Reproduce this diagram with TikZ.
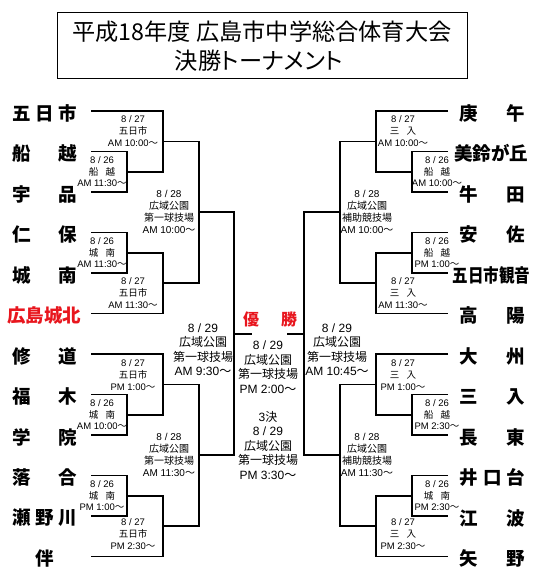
\documentclass[tikz,border=0pt]{standalone}
\usepackage{fontspec}
\setmainfont{Liberation Sans}
\newfontfamily\cjk{Noto Sans CJK JP}
\newfontfamily\cjkp{Noto Sans CJK JP}[RawFeature=+palt]
\newcommand{\J}[1]{{\cjk #1}}
\newcommand{\W}{{\cjk 〜}}
\newcommand{\Sp}{\hspace{0.75em}}
\definecolor{kred}{RGB}{232,22,30}
\tikzset{
  br/.style={line width=1.7pt, line join=miter},
  lbl/.style={align=center, inner sep=0pt, font=\fontsize{9.5}{11.8}\selectfont},
  lblm/.style={align=center, inner sep=0pt, font=\fontsize{10}{12}\selectfont},
  lblb/.style={align=center, inner sep=0pt, font=\fontsize{12}{14.5}\selectfont},
  team/.style={inner sep=0pt, anchor=center, font=\cjk\bfseries\fontsize{18.5}{20}\selectfont},
  ttl/.style={inner sep=0pt, anchor=center},
  win/.style={inner sep=0pt, text=kred, font=\cjk\bfseries\fontsize{16}{18}\selectfont}
}
\begin{document}
\begin{tikzpicture}[x=1pt,y=-1pt]
\useasboundingbox (0,0) rectangle (540,572);
% title
\node[draw, line width=0.8pt, minimum width=410pt, minimum height=66pt, inner sep=0pt] (titlebox) at (262,45) {};
\node[ttl, font=\cjk\fontsize{23.2}{24}\selectfont] (title1) at (262,32) {平成18年度 広島市中学総合体育大会};
\node[ttl, font=\cjkp\fontsize{23.2}{24}\selectfont] (title2) at (259,61) {決勝トーナメント};

% ---------- left coordinates
\coordinate (L1) at (91,111);
\coordinate (L2) at (91,151.5);
\coordinate (L3) at (91,192);
\coordinate (L4) at (91,232.5);
\coordinate (L5) at (91,273);
\coordinate (L6) at (91,313.5);
\coordinate (L7) at (91,354);
\coordinate (L8) at (91,394.5);
\coordinate (L9) at (91,435);
\coordinate (L10) at (91,475.5);
\coordinate (L11) at (91,516);
\coordinate (L12) at (91,556.5);
\coordinate (LA1) at (127,171.75);
\coordinate (LA2) at (127,252.75);
\coordinate (LA3) at (127,414.75);
\coordinate (LA4) at (127,495.75);
\coordinate (LB1) at (163,141.4);
\coordinate (LB2) at (163,283.1);
\coordinate (LB3) at (163,384.4);
\coordinate (LB4) at (163,526.1);
\coordinate (LC1) at (199,212.25);
\coordinate (LC2) at (199,455.25);
\coordinate (LD) at (234,333.75);
\coordinate (LF) at (252,333.75);
% ---------- right coordinates
\coordinate (R1) at (448,111);
\coordinate (R2) at (448,151.5);
\coordinate (R3) at (448,192);
\coordinate (R4) at (448,232.5);
\coordinate (R5) at (448,273);
\coordinate (R6) at (448,313.5);
\coordinate (R7) at (448,354);
\coordinate (R8) at (448,394.5);
\coordinate (R9) at (448,435);
\coordinate (R10) at (448,475.5);
\coordinate (R11) at (448,516);
\coordinate (R12) at (448,556.5);
\coordinate (RA1) at (412,171.75);
\coordinate (RA2) at (412,252.75);
\coordinate (RA3) at (412,414.75);
\coordinate (RA4) at (412,495.75);
\coordinate (RB1) at (376,141.4);
\coordinate (RB2) at (376,283.1);
\coordinate (RB3) at (376,384.4);
\coordinate (RB4) at (376,526.1);
\coordinate (RC1) at (340,212.25);
\coordinate (RC2) at (340,455.25);
\coordinate (RD) at (304,333.75);
\coordinate (RF) at (287,333.75);

% ---------- left brackets
\draw[br] (L2) -| (LA1) |- (L3);
\draw[br] (L4) -| (LA2) |- (L5);
\draw[br] (L8) -| (LA3) |- (L9);
\draw[br] (L10) -| (LA4) |- (L11);
\draw[br] (L1) -| (LB1) |- (LA1);
\draw[br] (LA2) -| (LB2) |- (L6);
\draw[br] (L7) -| (LB3) |- (LA3);
\draw[br] (LA4) -| (LB4) |- (L12);
\draw[br] (LB1) -| (LC1) |- (LB2);
\draw[br] (LB3) -| (LC2) |- (LB4);
\draw[br] (LC1) -| (LD) |- (LC2);
\draw[br] (LD) -- (LF);
% ---------- right brackets
\draw[br] (R2) -| (RA1) |- (R3);
\draw[br] (R4) -| (RA2) |- (R5);
\draw[br] (R8) -| (RA3) |- (R9);
\draw[br] (R10) -| (RA4) |- (R11);
\draw[br] (R1) -| (RB1) |- (RA1);
\draw[br] (RA2) -| (RB2) |- (R6);
\draw[br] (R7) -| (RB3) |- (RA3);
\draw[br] (RA4) -| (RB4) |- (R12);
\draw[br] (RB1) -| (RC1) |- (RB2);
\draw[br] (RB3) -| (RC2) |- (RB4);
\draw[br] (RC1) -| (RD) |- (RC2);
\draw[br] (RD) -- (RF);

% ---------- winner
\node[win] (yu) at (251,319) {優};
\node[win] (sho) at (289,319) {勝};

% ---------- left teams
\node[team] (tL1) at (45,113) {\makebox[64.5pt]{五\hfill 日\hfill 市}};
\node[team] (tL2) at (45,153.5) {\makebox[64.5pt]{船\hfill 越}};
\node[team] (tL3) at (45,194) {\makebox[64.5pt]{宇\hfill 品}};
\node[team] (tL4) at (45,234.5) {\makebox[64.5pt]{仁\hfill 保}};
\node[team] (tL5) at (45,275) {\makebox[64.5pt]{城\hfill 南}};
\node[team, text=kred] (tL6) at (44,315.5) {広島城北};
\node[team] (tL7) at (45,356) {\makebox[64.5pt]{修\hfill 道}};
\node[team] (tL8) at (45,396.5) {\makebox[64.5pt]{福\hfill 木}};
\node[team] (tL9) at (45,437) {\makebox[64.5pt]{学\hfill 院}};
\node[team] (tL10) at (45,477.5) {\makebox[64.5pt]{落\hfill 合}};
\node[team] (tL11) at (45,518) {\makebox[64.5pt]{瀬\hfill 野\hfill 川}};
\node[team] (tL12) at (45,558.5) {伴};
% ---------- right teams
\node[team] (tR1) at (492.5,113) {\makebox[65.5pt]{庚\hfill 午}};
\node[team] (tR2) at (491,153.5) {美鈴が丘};
\node[team] (tR3) at (492.5,194) {\makebox[65.5pt]{牛\hfill 田}};
\node[team] (tR4) at (492.5,234.5) {\makebox[65.5pt]{安\hfill 佐}};
\node[team] (tR5) at (491.5,275) {\scalebox{0.84}[1]{五日市観音}};
\node[team] (tR6) at (492.5,315.5) {\makebox[65.5pt]{高\hfill 陽}};
\node[team] (tR7) at (492.5,356) {\makebox[65.5pt]{大\hfill 州}};
\node[team] (tR8) at (492.5,396.5) {\makebox[65.5pt]{三\hfill 入}};
\node[team] (tR9) at (492.5,437) {\makebox[65.5pt]{長\hfill 東}};
\node[team] (tR10) at (492.5,477.5) {\makebox[65.5pt]{井\hfill 口\hfill 台}};
\node[team] (tR11) at (492.5,518) {\makebox[65.5pt]{江\hfill 波}};
\node[team] (tR12) at (492.5,558.5) {\makebox[65.5pt]{矢\hfill 野}};

% ---------- left labels
\node[lbl] (l11) at (102,171.75) {8 / 26\\\J{船\Sp 越}\\AM 11:30\W};
\node[lbl] (l12) at (102,252.75) {8 / 26\\\J{城\Sp 南}\\AM 11:30\W};
\node[lbl] (l13) at (102,414.75) {8 / 26\\\J{城\Sp 南}\\AM 10:00\W};
\node[lbl] (l14) at (102,495.75) {8 / 26\\\J{城\Sp 南}\\PM 1:00\W};
\node[lbl] (l21) at (133,131) {8 / 27\\\J{五日市}\\AM 10:00\W};
\node[lbl] (l22) at (133,293) {8 / 27\\\J{五日市}\\AM 11:30\W};
\node[lbl] (l23) at (133,375) {8 / 27\\\J{五日市}\\PM 1:00\W};
\node[lbl] (l24) at (133,534) {8 / 27\\\J{五日市}\\PM 2:30\W};
\node[lblm] (l31) at (169,212) {8 / 28\\\J{広域公園}\\\J{第一球技場}\\AM 10:00\W};
\node[lblm] (l32) at (169,455) {8 / 28\\\J{広域公園}\\\J{第一球技場}\\AM 11:30\W};
\node[lblb] (l41) at (203,349.5) {8 / 29\\\J{広域公園}\\\J{第一球技場}\\AM 9:30\W};
% ---------- centre labels
\node[lblb] (fin) at (268,367) {8 / 29\\\J{広域公園}\\\J{第一球技場}\\PM 2:00\W};
\node[lblb] (third) at (268,445.5) {3\J{決}\\8 / 29\\\J{広域公園}\\\J{第一球技場}\\PM 3:30\W};
% ---------- right labels
\node[lblb] (r41) at (337,349.5) {8 / 29\\\J{広域公園}\\\J{第一球技場}\\AM 10:45\W};
\node[lblm] (r31) at (367,212) {8 / 28\\\J{広域公園}\\\J{補助競技場}\\AM 10:00\W};
\node[lblm] (r32) at (367,455) {8 / 28\\\J{広域公園}\\\J{補助競技場}\\AM 11:30\W};
\node[lbl] (r21) at (403,131) {8 / 27\\\J{三\Sp 入}\\AM 10:00\W};
\node[lbl] (r22) at (403,293) {8 / 27\\\J{三\Sp 入}\\AM 11:30\W};
\node[lbl] (r23) at (403,375) {8 / 27\\\J{三\Sp 入}\\PM 1:00\W};
\node[lbl] (r24) at (403,534) {8 / 27\\\J{三\Sp 入}\\PM 2:30\W};
\node[lbl] (r11) at (437,171.75) {8 / 26\\\J{船\Sp 越}\\AM 10:00\W};
\node[lbl] (r12) at (437,252.75) {8 / 26\\\J{船\Sp 越}\\PM 1:00\W};
\node[lbl] (r13) at (437,414.75) {8 / 26\\\J{船\Sp 越}\\PM 2:30\W};
\node[lbl] (r14) at (437,495.75) {8 / 26\\\J{城\Sp 南}\\PM 2:30\W};
\end{tikzpicture}
\end{document}
